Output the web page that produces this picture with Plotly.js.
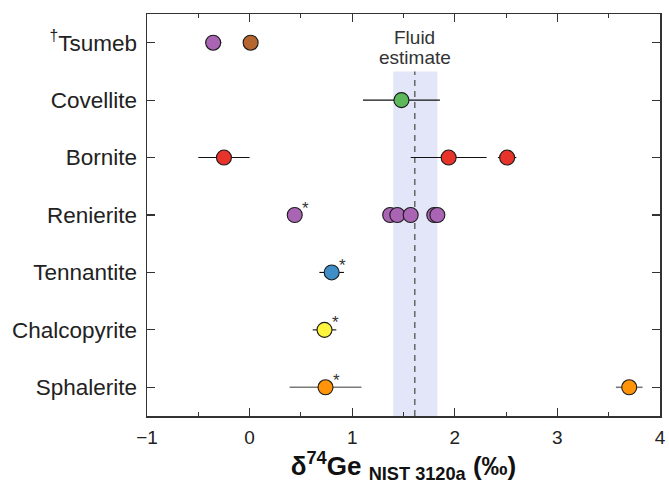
<!DOCTYPE html>
<html>
<head>
<meta charset="utf-8">
<script src="https://cdn.plot.ly/plotly-3.0.1.min.js"></script>
<style>html,body{margin:0;padding:0;background:#fff;}#chart{width:669px;height:484px;}</style>
</head>
<body>
<div id="chart"></div>
<script>
// Categories (bottom to top)
const minerals = ['Sphalerite', 'Chalcopyrite', 'Tennantite', 'Renierite', 'Bornite', 'Covellite', 'Tsumeb'];
const mineralLabels = ['Sphalerite', 'Chalcopyrite', 'Tennantite', 'Renierite', 'Bornite', 'Covellite', '<sup>†</sup>Tsumeb'];

// Individual measurements: delta74Ge (permil), 2SD, mineral, colour group
const pointMineral = ['Sphalerite', 'Sphalerite', 'Chalcopyrite', 'Tennantite',
  'Renierite', 'Renierite', 'Renierite', 'Renierite', 'Renierite', 'Renierite',
  'Bornite', 'Bornite', 'Bornite', 'Covellite', 'Tsumeb', 'Tsumeb'];
const pointValue = [0.74, 3.70, 0.73, 0.80,
  0.44, 1.37, 1.44, 1.57, 1.80, 1.83,
  -0.25, 1.94, 2.51, 1.48, -0.355, 0.01];
const pointError = [0.35, 0.13, 0.115, 0.12,
  0, 0, 0, 0, 0, 0,
  0.25, 0.37, 0.09, 0.375, 0.08, 0];
const pointGroup = ['sph', 'sph', 'ccp', 'tnt',
  'ren', 'ren', 'ren', 'ren', 'ren', 'ren',
  'bn', 'bn', 'bn', 'cv', 'ren', 'tsu'];
const pointStar = [true, false, true, true,
  true, false, false, false, false, false,
  false, false, false, false, false, false];

// Fluid estimate (permil)
const fluidMean = 1.61;
const fluidLow = 1.40;
const fluidHigh = 1.83;

// Styles
const groupColor = {sph: '#FF9408', ccp: '#FFF43D', tnt: '#3F8EC7', ren: '#A964B3',
  bn: '#E8332A', cv: '#5CB85B', tsu: '#B5652F'};
const groupErrColor = {sph: '#7a7a7a'};

const FONT = 'Liberation Sans, Arial, sans-serif';
const TXT = '#222';

const traces = [];
for (let i = 0; i < pointValue.length; i++) {
  const g = pointGroup[i];
  traces.push({
    type: 'scatter', mode: 'markers',
    x: [pointValue[i]],
    y: [minerals.indexOf(pointMineral[i])],
    error_x: {type: 'data', array: [pointError[i]], visible: pointError[i] > 0,
      color: groupErrColor[g] || '#111', thickness: g === 'sph' ? 1.6 : 1.1, width: 0},
    marker: {size: 15, color: groupColor[g], line: {color: '#1a1a1a', width: 1.1}},
    showlegend: false, hoverinfo: 'x+y'
  });
}

const annotations = [];
for (let i = 0; i < pointValue.length; i++) {
  if (pointStar[i]) {
    annotations.push({
      x: pointValue[i], y: minerals.indexOf(pointMineral[i]), xref: 'x', yref: 'y',
      text: '*', showarrow: false, xshift: 11, yshift: 7,
      font: {family: FONT, size: 17, color: '#333'}
    });
  }
}
annotations.push({x: fluidMean, y: 5.5, xref: 'x', yref: 'y', text: 'Fluid', showarrow: false,
  yshift: 34, font: {family: FONT, size: 19, color: '#333'}});
annotations.push({x: fluidMean, y: 5.5, xref: 'x', yref: 'y', text: 'estimate', showarrow: false,
  yshift: 14, font: {family: FONT, size: 19, color: '#333'}});

const shapes = [
  {type: 'rect', xref: 'x', yref: 'y', x0: fluidLow, x1: fluidHigh, y0: -0.5, y1: 5.5,
    fillcolor: '#E3E6F8', line: {width: 0}, layer: 'below'},
  {type: 'line', xref: 'x', yref: 'y', x0: fluidMean, x1: fluidMean, y0: -0.5, y1: 5.5,
    line: {color: '#666', width: 1.5, dash: '6px,5px'}, layer: 'below'}
];

const layout = {
  width: 669, height: 484,
  margin: {l: 147, r: 9, t: 14, b: 68},
  paper_bgcolor: '#fff', plot_bgcolor: '#fff',
  font: {family: FONT, color: TXT},
  xaxis: {
    range: [-1, 4], dtick: 1, tick0: 0,
    ticks: 'inside', ticklen: 8, tickwidth: 1.2, tickcolor: '#333',
    minor: {dtick: 0.5, ticks: 'inside', ticklen: 4, tickwidth: 1.1, tickcolor: '#333'},
    showline: true, linecolor: '#333', linewidth: 1.5, mirror: 'ticks',
    showgrid: false, zeroline: false,
    tickfont: {family: FONT, size: 19, color: TXT},
    ticklabelstandoff: 4,
    title: {text: '<b>δ<sup>74</sup>Ge <sub>NIST 3120a</sub> (‰)</b>', standoff: 0,
      font: {family: FONT, size: 26, color: '#111'}}
  },
  yaxis: {
    range: [-0.5, 6.5], tickvals: [0, 1, 2, 3, 4, 5, 6], ticktext: mineralLabels,
    ticks: 'inside', ticklen: 8, tickwidth: 1.2, tickcolor: '#333',
    showline: true, linecolor: '#333', linewidth: 1.5, mirror: 'ticks',
    showgrid: false, zeroline: false,
    tickfont: {family: FONT, size: 22.5, color: TXT},
    ticklabelstandoff: 4
  },
  shapes: shapes,
  annotations: annotations
};

Plotly.newPlot('chart', traces, layout, {staticPlot: true, displayModeBar: false});
</script>
</body>
</html>
